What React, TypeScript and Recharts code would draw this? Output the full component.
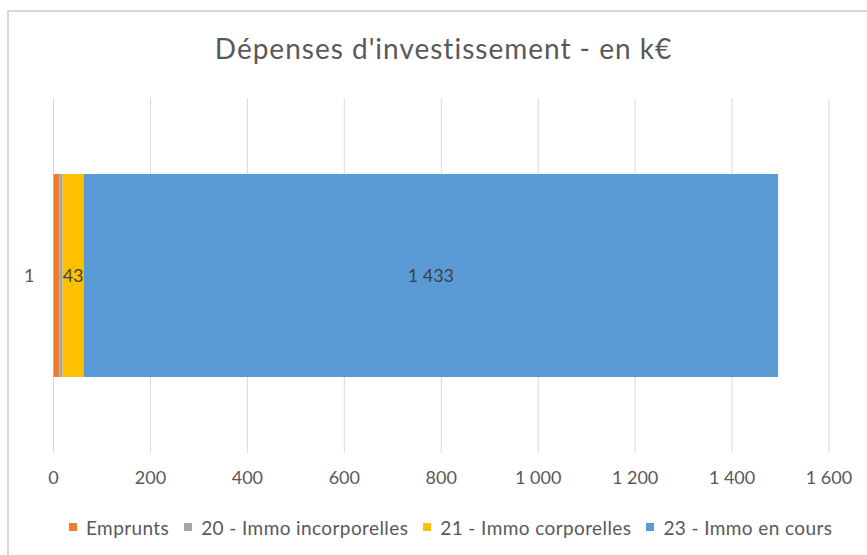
import React from "react";
import { BarChart, Bar, XAxis, YAxis, CartesianGrid, LabelList, Legend } from "recharts";

const categories = ["1"];
const seriesNames = ["Emprunts", "20 - Immo incorporelles", "21 - Immo corporelles", "23 - Immo en cours"];
const seriesKeys = ["emprunts", "immo20", "immo21", "immo23"];
const seriesColors = ["#ED7D31", "#A5A5A5", "#FFC000", "#5B9BD5"];
const empruntsValues = [12];
const immo20Values = [7];
const immo21Values = [43];
const immo23Values = [1433];
const labelledSeries = ["immo21", "immo23"];
const xTicks = [0, 200, 400, 600, 800, 1000, 1200, 1400, 1600];
const title = "Dépenses d'investissement - en k€";

const data = categories.map((c, i) => ({
  cat: c,
  emprunts: empruntsValues[i],
  immo20: immo20Values[i],
  immo21: immo21Values[i],
  immo23: immo23Values[i],
}));

const fmt = (v: any) => {
  const n = Number(v);
  return String(n).replace(/\B(?=(\d{3})+(?!\d))/g, " ");
};

const FONT = "Lato, 'Noto Sans', sans-serif";
const TEXT = "#595959";

const LegendContent = (props: any) => {
  const payload = [...(props.payload || [])].sort(
    (a: any, b: any) => seriesNames.indexOf(a.value) - seriesNames.indexOf(b.value)
  );
  return (
    <div style={{ display: "flex", alignItems: "center", height: 30, paddingLeft: 69, fontFamily: FONT, fontSize: 19, letterSpacing: 0.4, color: TEXT, whiteSpace: "nowrap" }}>
      {payload.map((p: any, i: number) => (
        <div key={i} style={{ display: "flex", alignItems: "center", marginRight: 15 }}>
          <span style={{ display: "inline-block", width: 8, height: 8, background: p.color, marginRight: 9 }} />
          <span>{p.value}</span>
        </div>
      ))}
    </div>
  );
};

export default function App() {
  return (
    <div style={{ position: "absolute", left: 0, top: 0, width: 867, height: 555, overflow: "hidden", background: "#fff" }}>
      <div style={{ position: "absolute", left: 7, top: 10, width: 1000, height: 1000, border: "2px solid #D9D9D9", boxSizing: "border-box" }} />
      <div style={{ position: "absolute", left: 0, top: 28, width: 887, textAlign: "center", fontFamily: FONT, fontSize: 28, letterSpacing: 1, color: TEXT, lineHeight: "40px" }}>
        {title}
      </div>
      <div style={{ position: "absolute", left: 0, top: 0 }}>
        <BarChart
          width={867}
          height={555}
          data={data}
          layout="vertical"
          margin={{ top: 98, right: 38, bottom: 13, left: 0 }}
          barSize={203}
        >
          <CartesianGrid horizontal={false} vertical={true} stroke="#D9D9D9" strokeWidth={1} />
          <XAxis
            type="number"
            domain={[0, 1600]}
            ticks={xTicks}
            tickFormatter={fmt}
            axisLine={false}
            tickLine={false}
            tickSize={0}
            tickMargin={18}
            height={59}
            tick={{ fill: TEXT, fontSize: 18, fontFamily: FONT }}
          />
          <YAxis
            type="category"
            dataKey="cat"
            width={53.5}
            axisLine={false}
            tickLine={false}
            tickSize={0}
            tickMargin={19}
            tick={{ fill: TEXT, fontSize: 18, fontFamily: FONT }}
          />
          <Legend verticalAlign="bottom" content={<LegendContent />} wrapperStyle={{ left: 0, width: 867 }} />
          {seriesKeys.map((k, i) => (
            <Bar key={k} dataKey={k} name={seriesNames[i]} stackId="a" fill={seriesColors[i]} isAnimationActive={false}>
              {labelledSeries.includes(k) ? (
                <LabelList dataKey={k} position="center" formatter={fmt} fill="#404040" style={{ fontSize: 18, fontFamily: FONT }} />
              ) : null}
            </Bar>
          ))}
        </BarChart>
      </div>
    </div>
  );
}
